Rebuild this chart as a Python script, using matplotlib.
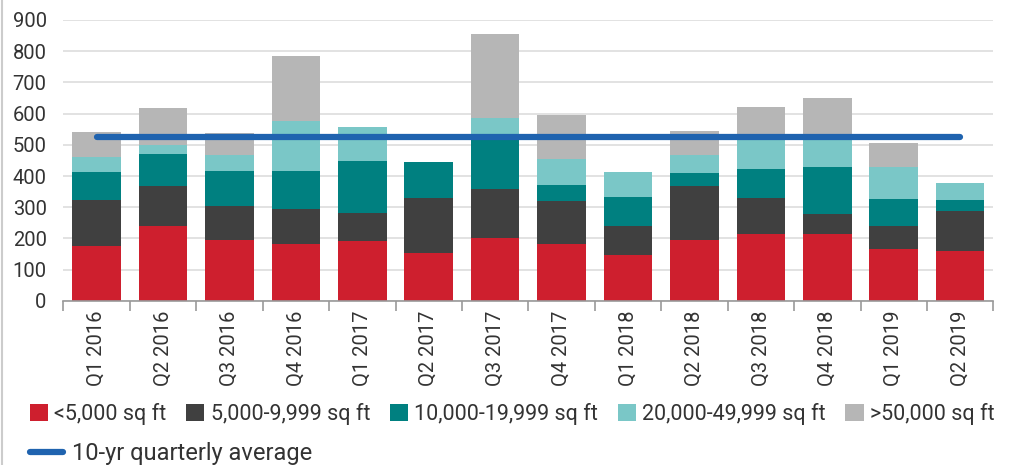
import matplotlib.pyplot as plt
import matplotlib.lines as mlines
import numpy as np

plt.rcParams['font.family'] = ['Roboto', 'DejaVu Sans']

quarters = ["Q1 2016", "Q2 2016", "Q3 2016", "Q4 2016", "Q1 2017", "Q2 2017", "Q3 2017",
            "Q4 2017", "Q1 2018", "Q2 2018", "Q3 2018", "Q4 2018", "Q1 2019", "Q2 2019"]

# cumulative tops, converted to segment sizes below
top_small = [176, 240, 195, 183, 192, 154, 202, 183, 147, 195, 215, 215, 167, 160]
top_mid = [323, 368, 304, 295, 282, 330, 359, 320, 240, 368, 330, 279, 240, 288]
top_large = [413, 471, 416, 416, 448, 445, 520, 372, 333, 410, 423, 429, 327, 323]
top_xlarge = [461, 500, 468, 577, 557, 445, 586, 455, 413, 468, 520, 520, 429, 378]
top_all = [541, 618, 538, 785, 557, 445, 855, 596, 413, 544, 621, 650, 506, 378]

avg_10yr = 526

labels = ["<5,000 sq ft", "5,000-9,999 sq ft", "10,000-19,999 sq ft",
          "20,000-49,999 sq ft", ">50,000 sq ft"]
colors = ["#CE1F2E", "#404040", "#008080", "#7AC7C7", "#B6B6B6"]

tops = np.array([top_small, top_mid, top_large, top_xlarge, top_all], dtype=float)
segments = np.diff(np.vstack([np.zeros(len(quarters)), tops]), axis=0)

fig = plt.figure(figsize=(10.22, 4.65), dpi=100)
ax = fig.add_axes([0.062, 0.353, 0.910, 0.604])

x = np.arange(len(quarters))
bottom = np.zeros(len(quarters))
handles = []
for seg, lab, col in zip(segments, labels, colors):
    b = ax.bar(x, seg, 0.73, bottom=bottom, color=col, label=lab, zorder=2)
    handles.append(b)
    bottom += seg

line, = ax.plot([x[0], x[-1]], [avg_10yr, avg_10yr], color="#1F63AF", lw=4.5,
                solid_capstyle="round", zorder=3, label="10-yr quarterly average")

ax.set_xlim(-0.5, len(quarters) - 0.5)
ax.set_ylim(0, 900)
ax.set_yticks(range(0, 901, 100))
ax.yaxis.grid(True, color="#DDDDDD", lw=1.2, zorder=0)
ax.tick_params(axis="y", length=0, labelsize=14.5, colors="#333333", pad=12)

ax.set_xticks(x)
ax.set_xticklabels(quarters, rotation=90, fontsize=14.5, color="#333333")
ax.set_xticks(np.arange(-0.5, len(quarters), 1), minor=True)
ax.tick_params(axis="x", which="major", length=0, pad=7)
ax.tick_params(axis="x", which="minor", length=7, color="#999999", width=1.2)

for s in ["top", "right", "left"]:
    ax.spines[s].set_visible(False)
ax.spines["bottom"].set_color("#999999")
ax.spines["bottom"].set_linewidth(1.2)

fig.legend(handles=handles, loc="center left", bbox_to_anchor=(0.029, 0.11), ncol=5,
           frameon=False, fontsize=15.5, handlelength=0.85, handleheight=0.85,
           handletextpad=0.3, columnspacing=0.9, labelcolor="#333333",
           borderaxespad=0, borderpad=0)
fig.legend(handles=[line], loc="center left", bbox_to_anchor=(0.029, 0.025),
           frameon=False, fontsize=17, handlelength=1.4, handletextpad=0.4,
           labelcolor="#333333", borderaxespad=0, borderpad=0)

fig.add_artist(mlines.Line2D([0.002, 0.002], [0, 1], color="#CCCCCC", lw=1.5))

fig.savefig("out.png", dpi=100)
